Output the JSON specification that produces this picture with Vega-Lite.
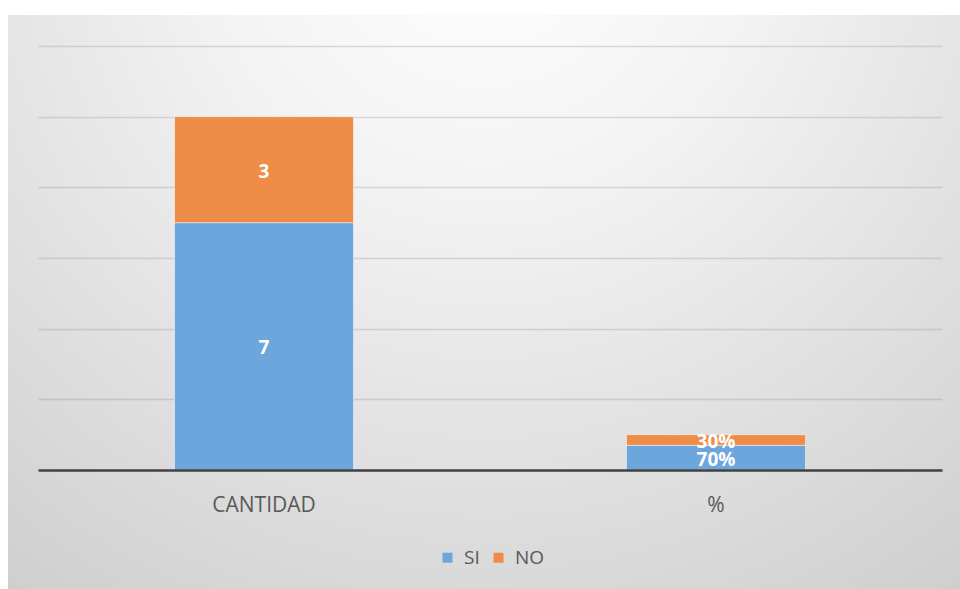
{
  "$schema": "https://vega.github.io/schema/vega-lite/v6.json",
  "width": 952,
  "height": 574,
  "padding": {"left": 8, "top": 15, "right": 0, "bottom": 0},
  "autosize": {"type": "none"},
  "background": "#ffffff",
  "view": {
    "stroke": null,
    "fill": {
      "gradient": "radial",
      "x1": 0.5, "y1": 0.1, "r1": 0,
      "x2": 0.5, "y2": 0.1, "r2": 0.95,
      "stops": [
        {"offset": 0, "color": "#ffffff"},
        {"offset": 0.3, "color": "#f3f3f3"},
        {"offset": 1, "color": "#c9c9c9"}
      ]
    }
  },
  "data": {
    "values": [
      {"cat": "CANTIDAD", "serie": "SI", "value": 7, "label": "7"},
      {"cat": "CANTIDAD", "serie": "NO", "value": 3, "label": "3"},
      {"cat": "%", "serie": "SI", "value": 0.7, "label": "70%"},
      {"cat": "%", "serie": "NO", "value": 0.3, "label": "30%"}
    ]
  },
  "layer": [
    {
      "mark": {"type": "bar", "stroke": "#ffffff", "strokeOpacity": 0.5, "strokeWidth": 1},
      "encoding": {
        "x": {
          "field": "cat", "type": "nominal", "sort": ["CANTIDAD", "%"],
          "scale": {"range": [30, 934], "paddingInner": 0.604, "paddingOuter": 0.302},
          "axis": {
            "orient": "bottom", "offset": -119, "title": null, "ticks": false,
            "domain": true, "domainColor": "#404040", "domainWidth": 2.5,
            "labelFontSize": 21, "labelFont": "Open Sans", "labelColor": "#595959",
            "labelPadding": 24, "labelAngle": 0, "zindex": 1
          }
        },
        "y": {
          "field": "value", "type": "quantitative", "stack": "zero",
          "scale": {"domain": [-3.368, 12.877], "nice": false, "zero": false},
          "axis": {
            "values": [2, 4, 6, 8, 10, 12], "grid": true, "labels": false, "ticks": false,
            "domain": false, "title": null, "gridColor": "#7f7f7f", "gridOpacity": 0.25, "gridWidth": 1.5
          }
        },
        "color": {
          "field": "serie", "type": "nominal",
          "scale": {"domain": ["SI", "NO"], "range": ["#6ca6dc", "#ef8c48"]},
          "legend": {
            "orient": "none", "legendX": 416, "legendY": 519, "direction": "horizontal",
            "title": null, "symbolType": "square", "symbolSize": 100, "symbolStrokeWidth": 0,
            "labelFontSize": 19, "labelFont": "Open Sans", "labelColor": "#595959",
            "labelOffset": 7, "columnPadding": 9, "padding": 14
          }
        },
        "order": {"field": "serie", "sort": "descending"}
      }
    },
    {
      "transform": [
        {"stack": "value", "groupby": ["cat"], "sort": [{"field": "serie", "order": "descending"}], "as": ["y0", "y1"]},
        {"fold": ["y0", "y1"], "as": ["k", "v"]}
      ],
      "mark": {"type": "text", "color": "#ffffff", "fontSize": 19, "fontWeight": "bold", "font": "Open Sans", "baseline": "middle", "dy": 2},
      "encoding": {
        "x": {
          "field": "cat", "type": "nominal", "sort": ["CANTIDAD", "%"], "title": null,
          "scale": {"range": [30, 934], "paddingInner": 0.604, "paddingOuter": 0.302}
        },
        "y": {
          "aggregate": "mean", "field": "v", "type": "quantitative", "title": null,
          "scale": {"domain": [-3.368, 12.877], "nice": false, "zero": false}
        },
        "detail": {"field": "serie"},
        "text": {"field": "label", "type": "nominal"}
      }
    }
  ]
}
